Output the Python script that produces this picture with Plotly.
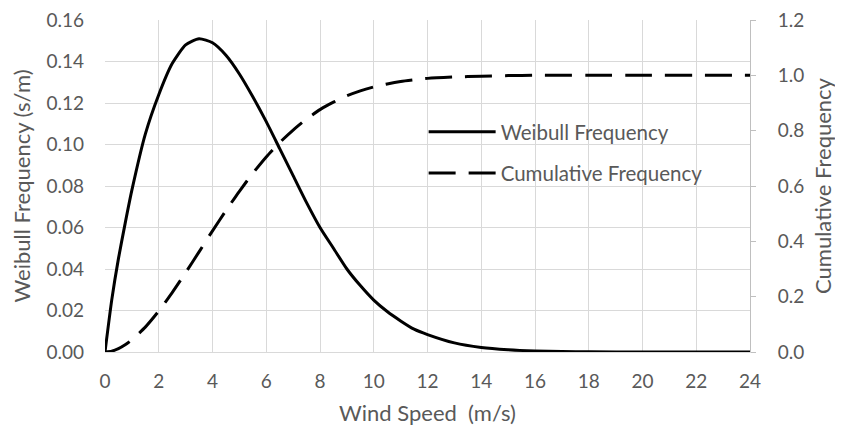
import plotly.graph_objects as go

wind_speed = [0, 0.25, 0.5, 0.75, 1, 1.5, 2, 2.5, 3, 3.5, 4, 4.5, 5, 5.5, 6, 6.5, 7, 7.5,
              8, 8.5, 9, 9.5, 10, 10.5, 11, 11.5, 12, 13, 14, 15, 16, 17, 18, 20, 22, 24]
weibull_freq = [0, 0.025, 0.045, 0.062, 0.078, 0.105, 0.124, 0.139, 0.148, 0.151, 0.149,
                0.143, 0.134, 0.123, 0.111, 0.098, 0.085, 0.072, 0.060, 0.050, 0.040,
                0.032, 0.025, 0.0195, 0.015, 0.011, 0.0084, 0.0044, 0.0022, 0.0011,
                0.0005, 0.0002, 0.0001, 0, 0, 0]
cumulative_freq = [0, 0.003, 0.012, 0.026, 0.044, 0.090, 0.148, 0.215, 0.287, 0.362,
                   0.438, 0.511, 0.581, 0.646, 0.705, 0.757, 0.802, 0.842, 0.876, 0.903,
                   0.926, 0.944, 0.958, 0.969, 0.978, 0.984, 0.989, 0.994, 0.997, 0.999,
                   1.0, 1.0, 1.0, 1.0, 1.0, 1.0]

x_ticks = [0, 2, 4, 6, 8, 10, 12, 14, 16, 18, 20, 22, 24]
y_left_ticks = [0.00, 0.02, 0.04, 0.06, 0.08, 0.10, 0.12, 0.14, 0.16]
y_right_ticks = [0.0, 0.2, 0.4, 0.6, 0.8, 1.0, 1.2]

FONT = "Lato"
GREY = "#595959"
GRID = "#d9d9d9"

fig = go.Figure()
fig.add_trace(go.Scatter(
    x=wind_speed, y=weibull_freq, name="Weibull Frequency", mode="lines",
    legend="legend",
    line=dict(color="black", width=3, shape="spline", smoothing=0.6),
))
fig.add_trace(go.Scatter(
    x=wind_speed, y=cumulative_freq, name="Cumulative Frequency", mode="lines",
    yaxis="y2", legend="legend2",
    line=dict(color="black", width=3, dash="27px,13px", shape="spline", smoothing=0.6),
))

legend_common = dict(xanchor="left", yanchor="middle", bgcolor="rgba(0,0,0,0)",
                     itemwidth=67, font=dict(family=FONT, size=20.5, color=GREY))

fig.update_layout(
    width=843, height=439,
    margin=dict(l=97, r=101, t=12, b=95),
    plot_bgcolor="white", paper_bgcolor="white",
    font=dict(family=FONT, color=GREY, size=19),
    showlegend=True,
    legend=dict(x=0.494, y=0.663, **legend_common),
    legend2=dict(x=0.494, y=0.539, **legend_common),
    xaxis=dict(
        range=[0, 24], tickvals=x_ticks, showgrid=True, gridcolor=GRID, gridwidth=1,
        zeroline=False, showline=True, linecolor=GRID, ticks="",
        ticklabelstandoff=12, automargin=False, ticklabeloverflow="allow",
        title=dict(text="Wind Speed  (m/s)", font=dict(size=22, color=GREY), standoff=14),
        tickfont=dict(size=19, color=GREY),
    ),
    yaxis=dict(
        range=[0, 0.16], tickvals=y_left_ticks, tickformat=".2f", showgrid=True,
        gridcolor=GRID, zeroline=False, showline=False, ticks="", ticklabelstandoff=20,
        automargin=False, ticklabeloverflow="allow",
        title=dict(text="Weibull Frequency (s/m)", font=dict(size=22, color=GREY), standoff=12),
        tickfont=dict(size=19, color=GREY),
    ),
    yaxis2=dict(
        range=[0, 1.2], tickvals=y_right_ticks, tickformat=".1f", overlaying="y",
        side="right", showgrid=False, zeroline=False, showline=True, linecolor="#bfbfbf",
        ticks="outside", ticklen=5, tickcolor="#bfbfbf", ticklabelstandoff=18,
        automargin=False, ticklabeloverflow="allow",
        title=dict(text="Cumulative Frequency", font=dict(size=22, color=GREY), standoff=12),
        tickfont=dict(size=19, color=GREY),
    ),
)

fig.write_html("out.html")
